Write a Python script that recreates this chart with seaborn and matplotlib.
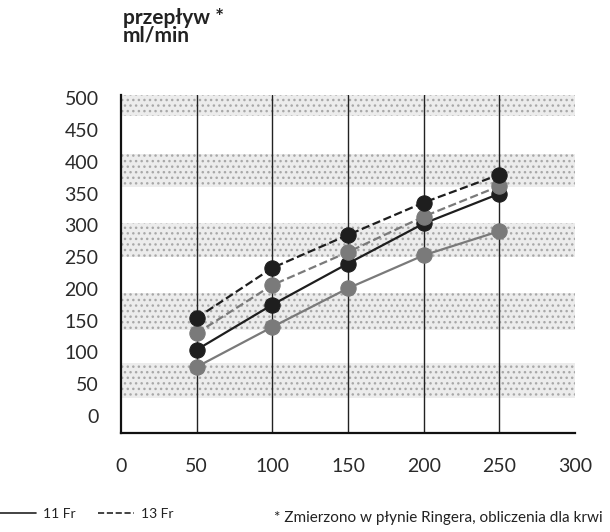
import pandas as pd
import matplotlib.pyplot as plt
import seaborn as sns
from matplotlib.lines import Line2D

# --- data ---
flow_x = [50, 100, 150, 200, 250]
gray_solid = [77, 140, 201, 253, 291]     # 11 Fr, light marker
dark_solid = [104, 175, 240, 303, 350]    # 11 Fr, dark marker
gray_dashed = [130, 206, 258, 314, 362]   # 13 Fr, light marker
dark_dashed = [154, 233, 285, 336, 380]   # 13 Fr, dark marker
y_ticks = [0, 50, 100, 150, 200, 250, 300, 350, 400, 450, 500]
x_ticks = [0, 50, 100, 150, 200, 250, 300]

series = [
    ("11 Fr a", gray_solid, "#7a7a7a", "-"),
    ("11 Fr b", dark_solid, "#1e1e1e", "-"),
    ("13 Fr a", gray_dashed, "#7a7a7a", "--"),
    ("13 Fr b", dark_dashed, "#1e1e1e", "--"),
]

# decorative stippled bands behind the plot
bands = [(28, 83), (135, 193), (250, 303), (360, 413), (472, 505)]

sns.set_theme(style="white")
plt.rcParams['font.family'] = ['Lato', 'DejaVu Sans']

fig = plt.figure(figsize=(6.1, 5.32), dpi=100)
ax = fig.add_axes([0.198, 0.186, 0.745, 0.635])

for lo, hi in bands:
    ax.axhspan(lo, hi, facecolor="#ececec", edgecolor="#a8a8a8",
               hatch="...", linewidth=0, zorder=0)

for xv in [50, 100, 150, 200, 250]:
    ax.axvline(xv, color="#222222", lw=1.0, zorder=1)

for name, vals, col, ls in series:
    df = pd.DataFrame({"x": flow_x, "y": vals})
    sns.lineplot(data=df, x="x", y="y", ax=ax, color=col, linestyle=ls,
                 lw=1.6, marker="o", markersize=11, markeredgecolor=col,
                 markeredgewidth=0.8, zorder=3)

ax.set_xlim(0, 300)
ax.set_ylim(-27, 505)
ax.set_xticks(x_ticks)
ax.set_yticks(y_ticks)
ax.tick_params(axis="both", length=0, labelsize=14, colors="#2a2a2a")
ax.tick_params(axis="y", pad=16)
ax.tick_params(axis="x", pad=18)
ax.set_xlabel("")
ax.set_ylabel("")
sns.despine(ax=ax)
for s in ["left", "bottom"]:
    ax.spines[s].set_color("#111111")
    ax.spines[s].set_linewidth(1.6)

fig.text(0.201, 0.985, "przepływ *\nml/min", ha="left", va="top",
         fontsize=15, fontweight="bold", color="#222222", linespacing=0.85)

handles = [Line2D([], [], color="#222222", lw=1.2, ls="-"),
           Line2D([], [], color="#222222", lw=1.2, ls="--")]
fig.legend(handles, ["11 Fr", "13 Fr"], loc="lower left",
           bbox_to_anchor=(-0.02, 0.0), ncol=2, frameon=False,
           fontsize=10, handlelength=2.6, handletextpad=0.5,
           columnspacing=1.6, labelcolor="#222222")

fig.text(0.45, 0.027, "* Zmierzono w płynie Ringera, obliczenia dla krwi",
         ha="left", va="center", fontsize=11, color="#222222")

fig.savefig("out.png", dpi=100)
